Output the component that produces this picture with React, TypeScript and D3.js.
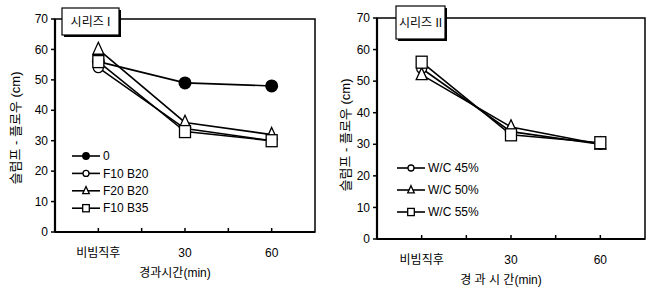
import { useEffect, useRef } from 'react';
import * as d3 from 'd3';

// x positions in minutes (0 = 비빔직후)
const times = [0, 30, 60];
const timeLabels = ['비빔직후', '30', '60'];
const yTicks = [0, 10, 20, 30, 40, 50, 60, 70];

// 시리즈 I
const names1 = ['0', 'F10 B20', 'F20 B20', 'F10 B35'];
const s1_0 = [56, 49, 48];
const s1_f10b20 = [54, 34, 30];
const s1_f20b20 = [60, 36, 32];
const s1_f10b35 = [56, 33, 30];

// 시리즈 II
const names2 = ['W/C 45%', 'W/C 50%', 'W/C 55%'];
const s2_45 = [54, 34, 30];
const s2_50 = [52, 35.5, 30];
const s2_55 = [56, 33, 30.5];

const FONT = 'Arial, "Liberation Sans", "Noto Sans CJK KR", sans-serif';

type Series = { name: string; values: number[]; marker: string };

const drawPanel = (svg, opts) => {
  const { left, right, top, bottom, series, title, titleBox, xTitle, legend, yLabelX, yLabelY } = opts;
  const x = d3.scaleLinear().domain([-15, 75]).range([left, right]);
  const y = d3.scaleLinear().domain([0, 70]).range([bottom, top]);
  const g = svg.append('g');

  // frame
  g.append('rect').attr('x', left).attr('y', top).attr('width', right - left).attr('height', bottom - top)
    .attr('fill', 'none').attr('stroke', '#000').attr('stroke-width', 1.5);
  g.append('line').attr('x1', left).attr('x2', left).attr('y1', top).attr('y2', bottom)
    .attr('stroke', '#000').attr('stroke-width', 2.2);
  g.append('line').attr('x1', left).attr('x2', right).attr('y1', bottom).attr('y2', bottom)
    .attr('stroke', '#000').attr('stroke-width', 2.2);

  // y ticks
  yTicks.forEach(t => {
    g.append('line').attr('x1', left - 4).attr('x2', left).attr('y1', y(t)).attr('y2', y(t))
      .attr('stroke', '#000').attr('stroke-width', 1.5);
    g.append('text').attr('x', left - 7).attr('y', y(t)).attr('dy', '0.35em')
      .attr('text-anchor', 'end').attr('font-size', 12).attr('font-family', FONT).text(t);
  });
  // x ticks
  [0, 15, 30, 45, 60].forEach(t => {
    g.append('line').attr('x1', x(t)).attr('x2', x(t)).attr('y1', bottom).attr('y2', bottom - 4)
      .attr('stroke', '#000').attr('stroke-width', 1.5);
  });
  times.forEach((t, i) => {
    g.append('text').attr('x', x(t)).attr('y', bottom + 25).attr('text-anchor', 'middle')
      .attr('font-size', 12).attr('font-family', FONT).text(timeLabels[i]);
  });
  g.append('text').attr('x', (left + right) / 2 - 10).attr('y', bottom + 45).attr('text-anchor', 'middle')
    .attr('font-size', 12).attr('font-family', FONT).text(xTitle);
  g.append('text').attr('transform', `translate(${yLabelX},${yLabelY}) rotate(-90)`)
    .attr('text-anchor', 'middle').attr('dy', '0.35em').attr('font-size', 13).attr('font-family', FONT)
    .text('슬럼프 - 플로우 (cm)');

  // title box
  const [bx, by, bw, bh] = titleBox;
  g.append('rect').attr('x', bx + 2).attr('y', by + 2).attr('width', bw).attr('height', bh).attr('fill', '#000');
  g.append('rect').attr('x', bx).attr('y', by).attr('width', bw).attr('height', bh)
    .attr('fill', '#fff').attr('stroke', '#000').attr('stroke-width', 1.2);
  g.append('text').attr('x', bx + bw / 2).attr('y', by + bh / 2).attr('dy', '0.35em').attr('text-anchor', 'middle')
    .attr('font-size', 12).attr('font-family', FONT).text(title);

  const marker = (sel, kind, cx, cy, s = 1) => {
    if (kind === 'dot') {
      sel.append('circle').attr('cx', cx).attr('cy', cy).attr('r', 6.5 * s).attr('fill', '#000');
    } else if (kind === 'circle') {
      sel.append('circle').attr('cx', cx).attr('cy', cy).attr('r', 5 * s).attr('fill', '#fff')
        .attr('stroke', '#000').attr('stroke-width', 1.3);
    } else if (kind === 'triangle') {
      const h = 12 * s, w = 11 * s;
      sel.append('path').attr('d', `M${cx},${cy - h * 0.6}L${cx + w / 2},${cy + h * 0.4}L${cx - w / 2},${cy + h * 0.4}Z`)
        .attr('fill', '#fff').attr('stroke', '#000').attr('stroke-width', 1.3);
    } else {
      const w = 11 * s, h = 12 * s;
      sel.append('rect').attr('x', cx - w / 2).attr('y', cy - h / 2).attr('width', w).attr('height', h)
        .attr('fill', '#fff').attr('stroke', '#000').attr('stroke-width', 1.3);
    }
  };

  const line = d3.line<number>().x((d, i) => x(times[i])).y(d => y(d));
  series.forEach((s: Series) => {
    g.append('path').attr('d', line(s.values)).attr('fill', 'none').attr('stroke', '#000').attr('stroke-width', 1.6);
  });
  series.forEach((s: Series) => {
    s.values.forEach((v, i) => marker(g, s.marker, x(times[i]), y(v)));
  });

  // legend
  const [lx, ly, step] = legend;
  series.forEach((s: Series, i) => {
    const yy = ly + i * step;
    g.append('line').attr('x1', lx).attr('x2', lx + 28).attr('y1', yy).attr('y2', yy)
      .attr('stroke', '#000').attr('stroke-width', 1.6);
    marker(g, s.marker, lx + 14, yy, 0.6);
    g.append('text').attr('x', lx + 31).attr('y', yy).attr('dy', '0.35em')
      .attr('font-size', 12).attr('font-family', FONT).text(s.name);
  });
};

const App = () => {
  const svgRef = useRef(null);

  useEffect(() => {
    const svg = d3.select(svgRef.current);
    svg.selectAll('*').remove();

    const series1: Series[] = [
      { name: names1[0], values: s1_0, marker: 'dot' },
      { name: names1[1], values: s1_f10b20, marker: 'circle' },
      { name: names1[2], values: s1_f20b20, marker: 'triangle' },
      { name: names1[3], values: s1_f10b35, marker: 'square' },
    ];
    const series2: Series[] = [
      { name: names2[0], values: s2_45, marker: 'circle' },
      { name: names2[1], values: s2_50, marker: 'triangle' },
      { name: names2[2], values: s2_55, marker: 'square' },
    ];

    drawPanel(svg, {
      left: 55, right: 315, top: 19, bottom: 232, series: series1,
      title: '시리즈 I', titleBox: [62, 8, 57, 27], xTitle: '경과시간(min)', legend: [72, 156, 17.4],
      yLabelX: 15, yLabelY: 128,
    });
    drawPanel(svg, {
      left: 377, right: 645, top: 18, bottom: 239, series: series2,
      title: '시리즈 II', titleBox: [396, 6, 49, 33], xTitle: '경 과 시 간(min)', legend: [397, 168, 22],
      yLabelX: 345, yLabelY: 135,
    });
  }, []);

  return <svg ref={svgRef} width={653} height={288} style={{ position: 'absolute', left: 0, top: 0, background: '#fff' }} />;
};

export default App;
